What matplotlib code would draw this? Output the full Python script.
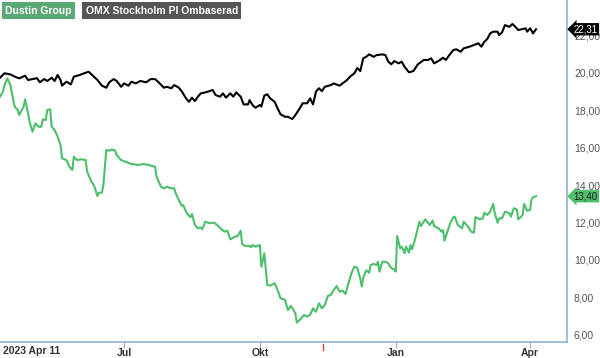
import datetime as dt
import matplotlib
matplotlib.use("Agg")
import matplotlib.pyplot as plt
import matplotlib.transforms as mtransforms

plt.rcParams["font.family"] = ["Liberation Sans", "DejaVu Sans"]

start = dt.date(2023, 4, 8)

# days since start, value
omx_days = [0, 3, 7, 10, 13, 17, 19, 22, 25, 27, 30, 32, 35, 37, 39, 41, 42, 45, 48, 50,
            54, 57, 60, 62, 66, 69, 72, 74, 77, 79, 82, 84, 87, 89, 92, 95, 99, 102, 105, 107,
            111, 113, 116, 118, 121, 123, 126, 128, 130, 132, 134, 136, 139, 142, 144, 146, 149, 151, 153, 156,
            158, 160, 163, 165, 168, 169, 171, 173, 176, 177, 179, 181, 183, 186, 188, 190, 193, 195, 198, 200,
            203, 205, 208, 210, 212, 214, 216, 218, 220, 224, 226, 230, 232, 235, 237, 240, 242, 244, 246, 248,
            250, 253, 255, 259, 261, 263, 265, 267, 270, 272, 274, 277, 280, 283, 287, 290, 292, 294, 298, 300,
            302, 304, 307, 309, 312, 314, 318, 321, 324, 326, 328, 330, 332, 334, 337, 338, 340, 342, 345, 347,
            349, 351, 354, 356, 357, 359, 361, 363]
omx_vals = [19.72, 19.96, 19.90, 19.78, 19.69, 19.83, 19.60, 19.65, 19.70, 19.48, 19.65, 19.55, 19.72, 19.55, 19.87, 19.60, 19.30, 19.51, 19.37, 19.78,
            19.87, 19.96, 20.04, 19.90, 19.60, 19.30, 19.19, 19.48, 19.65, 19.55, 19.24, 19.42, 19.30, 19.51, 19.42, 19.55, 19.48, 19.65, 19.65, 19.51,
            19.19, 19.24, 19.16, 19.33, 19.20, 19.01, 18.62, 18.44, 18.66, 18.48, 18.71, 18.89, 18.94, 19.01, 19.07, 18.80, 18.71, 18.89, 18.66, 18.89,
            18.71, 18.94, 18.71, 18.30, 18.30, 18.53, 18.27, 18.12, 18.27, 18.18, 18.77, 18.84, 18.62, 18.44, 18.09, 17.77, 17.64, 17.64, 17.52, 17.73,
            18.09, 18.36, 18.36, 18.62, 18.30, 18.98, 19.16, 19.01, 19.24, 19.33, 19.42, 19.30, 19.42, 19.60, 19.78, 19.96, 20.24, 20.08, 20.76, 20.84,
            20.97, 20.84, 20.93, 20.97, 20.93, 20.58, 20.44, 20.61, 20.49, 20.58, 20.31, 20.01, 20.08, 20.44, 20.67, 20.67, 20.76, 20.49, 20.67, 20.79,
            20.67, 20.90, 21.20, 21.24, 21.11, 21.29, 21.38, 21.47, 21.56, 21.38, 21.64, 21.79, 22.09, 22.18, 22.18, 22.00, 22.14, 22.53, 22.44, 22.59,
            22.44, 22.27, 22.32, 22.36, 22.18, 22.36, 22.09, 22.31]

dustin_days = [0, 2, 3, 5, 7, 9, 10, 12, 13, 15, 16, 17, 19, 20, 22, 24, 25, 26, 28, 29,
               31, 32, 34, 35, 37, 39, 41, 42, 45, 47, 49, 50, 52, 55, 58, 59, 60, 62, 64, 66,
               67, 69, 70, 72, 74, 76, 78, 79, 82, 85, 89, 94, 97, 101, 103, 105, 106, 109, 111, 113,
               116, 118, 119, 121, 123, 124, 126, 127, 129, 130, 132, 134, 136, 137, 139, 142, 145, 147, 150, 152,
               154, 156, 159, 161, 163, 164, 166, 169, 170, 171, 173, 176, 177, 179, 181, 183, 186, 188, 190, 193,
               195, 197, 199, 200, 201, 203, 206, 208, 210, 212, 214, 216, 218, 220, 222, 224, 226, 228, 230, 232,
               234, 236, 238, 240, 242, 244, 245, 246, 248, 250, 251, 253, 255, 256, 257, 259, 261, 263, 265, 267,
               268, 269, 271, 272, 273, 274, 275, 277, 278, 279, 281, 284, 285, 288, 291, 293, 294, 297, 299, 300,
               301, 303, 305, 307, 308, 310, 313, 314, 317, 319, 321, 322, 325, 327, 328, 330, 332, 334, 335, 337,
               338, 340, 342, 345, 346, 348, 350, 351, 354, 355, 357, 359, 360, 361, 363]
dustin_vals = [18.71, 18.98, 19.33, 19.69, 19.33, 18.53, 18.18, 18.00, 17.73, 18.04, 18.18, 18.57, 17.82, 17.38, 16.84, 17.29, 17.20, 17.11, 17.11, 17.50,
               17.47, 18.00, 18.04, 17.11, 16.93, 16.58, 16.13, 15.42, 15.33, 14.98, 14.80, 15.51, 15.33, 15.37, 15.33, 14.71, 14.53, 14.18, 13.91, 13.41,
               13.59, 13.59, 14.00, 15.87, 15.83, 15.90, 15.83, 15.60, 15.33, 15.24, 15.12, 15.07, 15.12, 15.07, 15.01, 14.98, 14.44, 13.91, 13.82, 13.91,
               13.82, 13.82, 13.56, 13.22, 12.90, 12.93, 12.58, 12.45, 12.28, 12.45, 11.87, 11.69, 11.74, 11.64, 12.04, 11.96, 11.99, 11.87, 11.64, 11.51,
               11.56, 11.10, 11.24, 11.28, 11.56, 10.85, 10.75, 10.75, 10.68, 10.80, 10.71, 10.80, 9.64, 10.36, 8.67, 8.63, 8.76, 8.40, 7.96, 7.87,
               7.33, 7.55, 7.30, 7.16, 6.66, 6.80, 7.07, 6.98, 7.07, 7.42, 7.24, 7.69, 7.42, 7.60, 8.08, 8.13, 8.40, 8.61, 8.31, 8.36,
               8.19, 8.76, 9.29, 9.64, 9.58, 9.00, 8.58, 9.05, 9.45, 9.32, 9.73, 9.79, 9.73, 9.91, 9.38, 9.91, 9.91, 9.82, 9.56, 9.50,
               9.38, 11.28, 10.62, 10.71, 10.57, 10.36, 10.71, 10.39, 10.80, 10.57, 11.07, 12.04, 11.81, 12.17, 11.87, 12.10, 11.81, 11.69, 11.51, 11.60,
               11.03, 11.51, 11.99, 12.28, 12.31, 11.87, 11.69, 12.04, 11.78, 11.51, 11.46, 12.28, 12.17, 12.22, 12.52, 12.40, 12.58, 12.99, 12.52, 11.99,
               12.22, 12.22, 12.58, 12.49, 12.31, 12.76, 12.70, 12.17, 12.40, 12.99, 12.63, 12.67, 13.24, 13.34, 13.40]

series_names = ["Dustin Group", "OMX Stockholm PI Ombaserad"]
tick_dates = [dt.date(2023, 7, 1), dt.date(2023, 10, 1), dt.date(2024, 1, 1), dt.date(2024, 4, 1)]
tick_labels = ["Jul", "Okt", "Jan", "Apr"]
y_ticks = [6, 8, 10, 12, 14, 16, 18, 20, 22]
report_date = dt.date(2023, 11, 13)

green = "#4cbf6b"
axis_blue = "#8fb3cf"

omx_x = [start + dt.timedelta(days=d) for d in omx_days]
dustin_x = [start + dt.timedelta(days=d) for d in dustin_days]

fig = plt.figure(figsize=(6, 3.58), dpi=100)
ax = fig.add_axes([0.0, 0.045, 0.945, 0.955])

ax.plot(omx_x, omx_vals, color="black", lw=1.5)
ax.plot(dustin_x, dustin_vals, color=green, lw=1.5)

ax.set_xlim(start, start + dt.timedelta(days=384))
ax.set_ylim(5.63, 23.87)

for s in ["left", "top"]:
    ax.spines[s].set_visible(False)
for s in ["right", "bottom"]:
    ax.spines[s].set_color(axis_blue)
    ax.spines[s].set_linewidth(1.2)

ax.set_xticks(tick_dates)
ax.set_xticklabels(tick_labels, fontweight="bold", fontsize=7.5, color="#333333")
ax.tick_params(axis="x", length=4, color=axis_blue, pad=0.5)

ax.yaxis.tick_right()
ax.set_yticks(y_ticks)
ax.set_yticklabels([f"{v:.2f}".replace(".", ",") for v in y_ticks], fontsize=7.5, color="#555555")
ax.tick_params(axis="y", length=0, pad=5)

# start date label
ax.text(0.005, -0.026, "2023 Apr 11", transform=ax.transAxes, ha="left", va="center",
        fontsize=7.5, fontweight="bold", color="#333333")

# red marker tick below axis
trans = mtransforms.blended_transform_factory(ax.transData, ax.transAxes)
ax.plot([report_date, report_date], [-0.005, -0.025], color="#e04040", lw=1, transform=trans, clip_on=False)

# legend boxes
ax.text(0.009, 0.969, series_names[0], transform=ax.transAxes, ha="left", va="center",
        fontsize=7.5, fontweight="bold", color="white",
        bbox=dict(boxstyle="square,pad=0.3", fc="#5aa873", ec="none"))
ax.text(0.151, 0.969, series_names[1], transform=ax.transAxes, ha="left", va="center",
        fontsize=7.5, fontweight="bold", color="white",
        bbox=dict(boxstyle="square,pad=0.3", fc="#555555", ec="none"))

# last value tags
trans_y = mtransforms.blended_transform_factory(ax.transAxes, ax.transData)
ax.text(1.012, omx_vals[-1], f"{omx_vals[-1]:.2f}".replace(".", ","), transform=trans_y,
        ha="left", va="center", fontsize=7, color="white",
        bbox=dict(boxstyle="larrow,pad=0.12", fc="black", ec="none"))
ax.text(1.012, dustin_vals[-1], f"{dustin_vals[-1]:.2f}".replace(".", ","), transform=trans_y,
        ha="left", va="center", fontsize=7, color="#1a1a1a",
        bbox=dict(boxstyle="larrow,pad=0.12", fc=green, ec="none"))

fig.savefig("out.png", dpi=100)
